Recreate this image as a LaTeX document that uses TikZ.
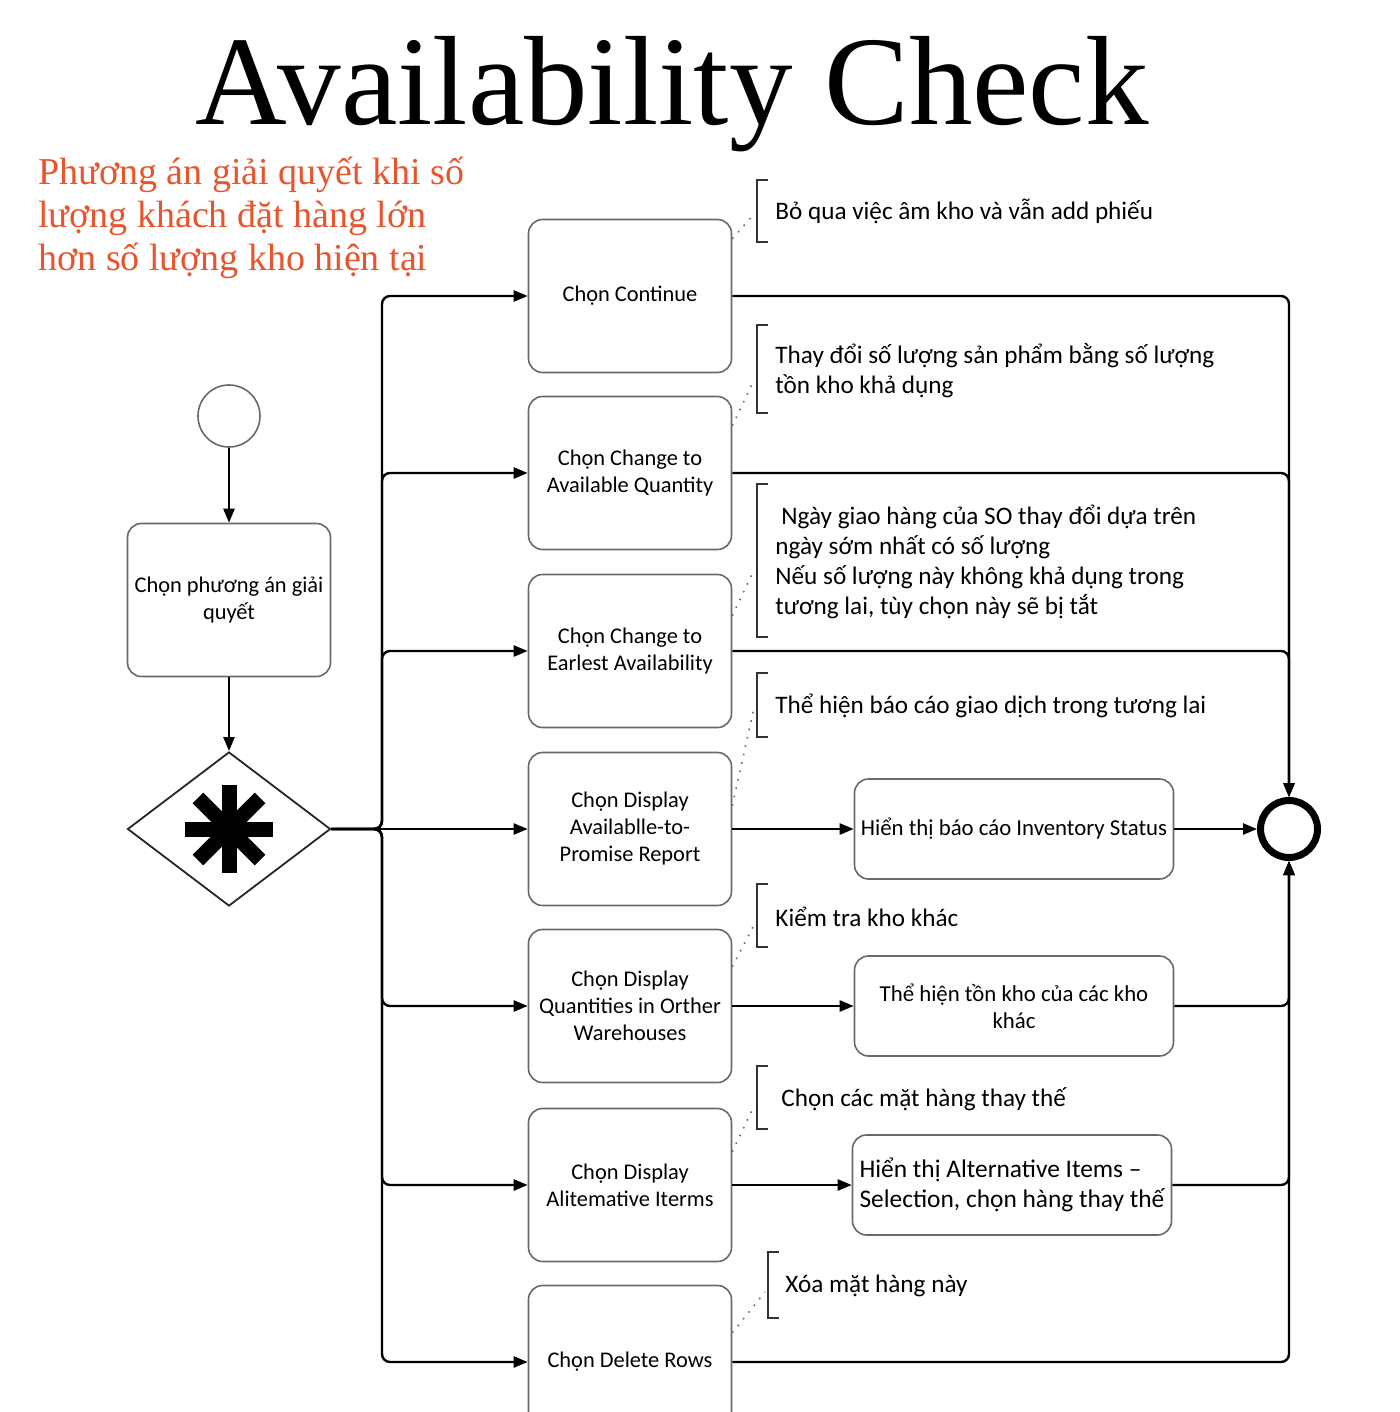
\documentclass[tikz,border=0pt]{standalone}
\usepackage{fontspec}
\setmainfont{Carlito}
\newfontfamily\titlefont{Liberation Serif}
\usetikzlibrary{arrows.meta,shapes.geometric}

\definecolor{notered}{RGB}{232,84,44}
\definecolor{boxgray}{RGB}{105,105,105}

\tikzset{
  task/.style={draw=boxgray, line width=0.8pt, rounded corners=7pt,
    minimum width=101.5pt, minimum height=76.5pt, align=center, inner sep=2pt,
    font=\fontsize{11.2}{13.5}\selectfont},
  result/.style={task, minimum width=159.5pt, minimum height=50pt,
    font=\fontsize{11.4}{13.5}\selectfont},
  note/.style={anchor=west, align=left, inner sep=0pt,
    font=\fontsize{12.6}{15}\selectfont},
  flow/.style={-{Triangle[length=7pt,width=5.5pt]}, line width=1.2pt, rounded corners=4pt},
  assoc/.style={boxgray, line width=0.8pt, dash pattern=on 0.8pt off 3.5pt},
  brk/.style={line width=1pt, black!80},
}

\begin{document}
\begin{tikzpicture}[x=0.5pt, y=-0.5pt]
\clip (0,0) rectangle (1400,1412);

% headings
\node (title) at (672,125) [anchor=base, inner sep=0pt, font=\titlefont\fontsize{63.5}{63.5}\selectfont] {Availability Check};
\node (goal) at (38,218) [anchor=west, align=left, inner sep=0pt, text=notered,
  font=\titlefont\fontsize{19}{21.5}\selectfont]
  {Phương án giải quyết khi số\\lượng khách đặt hàng lớn\\hơn số lượng kho hiện tại};

% start, first task, gateway
\node (start) at (229,416) [circle, draw=boxgray, line width=0.8pt, minimum size=31pt, inner sep=0pt] {};
\node (pick) at (229,600) [task] {Chọn phương án giải\\quyết};
\node (gw) at (229,829) [diamond, draw=black!85, line width=0.9pt, aspect=1.32,
  minimum width=101.5pt, minimum height=77pt, inner sep=0pt] {};
\foreach \a in {0,45,90,135}
  \draw[line width=7.5pt] (gw.center) ++(\a:44) -- ++(\a+180:88);

% options
\node (cont) at (630,296) [task] {Chọn Continue};
\node (qty) at (630,473) [task] {Chọn Change to\\Available Quantity};
\node (early) at (630,651) [task] {Chọn Change to\\Earlest Availability};
\node (atp) at (630,829) [task] {Chọn Display\\Availablle-to-\\Promise Report};
\node (whs) at (630,1006) [task] {Chọn Display\\Quantities in Orther\\Warehouses};
\node (alt) at (630,1185) [task] {Chọn Display\\Alitemative Iterms};
\node (del) at (630,1362) [task] {Chọn Delete Rows};

% results
\node (invrep) at (1014,829) [result] {Hiển thị báo cáo Inventory Status};
\node (othwh) at (1014,1006) [result] {Thể hiện tồn kho của các kho\\khác};
\node (altsel) at (1012,1185) [result, align=left, font=\fontsize{12.7}{15}\selectfont]
  {Hiển thị Alternative Items –\\Selection, chọn hàng thay thế};

\node (fin) at (1289,829) [circle, draw, line width=3.5pt, minimum size=28.5pt, inner sep=0pt] {};

% notes
\node (n1) at (775,211) [note] {Bỏ qua việc âm kho và vẫn add phiếu};
\node (n2) at (775,371) [note] {Thay đổi số lượng sản phẩm bằng số lượng\\tồn kho khả dụng};
\node (n3) at (775,562) [note] {\hspace*{3pt}Ngày giao hàng của SO thay đổi dựa trên\\ngày sớm nhất có số lượng\\Nếu số lượng này không khả dụng trong\\tương lai, tùy chọn này sẽ bị tắt};
\node (n4) at (775,706) [note] {Thể hiện báo cáo giao dịch trong tương lai};
\node (n5) at (775,917) [note] {Kiểm tra kho khác};
\node (n6) at (781,1099) [note] {Chọn các mặt hàng thay thế};
\node (n7) at (785,1286) [note] {Xóa mặt hàng này};

% brackets
\foreach \x/\top/\bot in {757/180/242, 757/325/413, 757/484/637, 757/673/737,
                          757/884/947, 757/1066/1129, 768/1252/1318}
  \draw[brk] (\x+11,\top) -- (\x,\top) -- (\x,\bot) -- (\x+11,\bot);

\coordinate (k1) at (754,214);
\coordinate (k2) at (754,380);
\coordinate (k3) at (754,570);
\coordinate (k4) at (754,708);
\coordinate (k5) at (754,925);
\coordinate (k6) at (754,1106);
\coordinate (k7) at (765,1292);

\draw[assoc] ([yshift=-10pt]cont.north east) -- (k1);
\draw[assoc] ([yshift=-15pt]qty.north east) -- (k2);
\draw[assoc] ([yshift=-21pt]early.north east) -- (k3);
\draw[assoc] ([yshift=-27pt]atp.north east) -- (k4);
\draw[assoc] ([yshift=-19pt]whs.north east) -- (k5);
\draw[assoc] ([yshift=-22pt]alt.north east) -- (k6);
\draw[assoc] ([yshift=-24pt]del.north east) -- (k7);

% flow
\draw[flow] (start.south) -- (pick.north);
\draw[flow] (pick.south) -- (gw.north);

\coordinate (split) at (382,829);
\foreach \b in {cont,qty,early,whs,alt,del}
  \draw[flow] (gw.east) -- (split) |- (\b.west);
\draw[flow] (gw.east) -- (atp.west);

\foreach \b in {cont,qty,early}
  \draw[flow] (\b.east) -| (fin.north);
\draw[flow] (atp.east) -- (invrep.west);
\draw[flow] (invrep.east) -- (fin.west);
\draw[flow] (whs.east) -- (othwh.west);
\draw[flow] (alt.east) -- (altsel.west);
\foreach \b in {othwh,altsel,del}
  \draw[flow] (\b.east) -| (fin.south);
\end{tikzpicture}
\end{document}
